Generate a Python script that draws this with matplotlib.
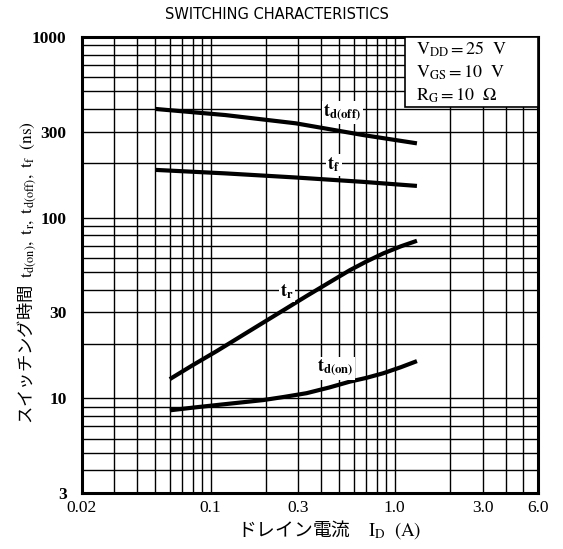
import matplotlib
matplotlib.use("Agg")
import matplotlib.pyplot as plt
from matplotlib.patches import Rectangle
from matplotlib.ticker import FixedLocator, LogLocator, NullFormatter

plt.rcParams['mathtext.fontset'] = 'stix'
plt.rcParams['font.family'] = ['Liberation Serif', 'DejaVu Serif']

# switching times vs drain current
id_doff = [0.05, 0.12, 0.29, 0.67, 1.32]
t_doff = [400, 370, 333, 287, 258]

id_f = [0.05, 0.12, 0.29, 0.67, 1.32]
t_f = [184, 176, 167, 158, 150]

id_r = [0.06, 0.08, 0.108, 0.145, 0.193, 0.25, 0.332, 0.44, 0.571, 0.7, 0.867, 1.08, 1.32]
t_r = [12.8, 15.3, 18.3, 22.0, 26.3, 30.9, 36.9, 43.8, 51.3, 57.2, 63.5, 69.5, 74.6]

id_don = [0.06, 0.08, 0.108, 0.145, 0.193, 0.25, 0.332, 0.44, 0.571, 0.7, 0.867, 1.08, 1.32]
t_don = [8.6, 8.9, 9.2, 9.5, 9.8, 10.2, 10.7, 11.5, 12.4, 13.0, 13.8, 14.9, 16.1]

xticks = [0.02, 0.1, 0.3, 1.0, 3.0, 6.0]
xlabels = ['0.02', '0.1', '0.3', '1.0', '3.0', '6.0']
yticks = [3, 10, 30, 100, 300, 1000]
ylabels = ['3', '10', '30', '100', '300', '1000']

conditions = [r'$\mathrm{V_{DD}=25\ \ V}$',
              r'$\mathrm{V_{GS}=10\ \ V}$',
              r'$\mathrm{R_{G}=10\ \ \Omega}$']

fig = plt.figure(figsize=(5.63, 5.49), dpi=100)
ax = fig.add_axes([0.1456, 0.102, 0.810, 0.8306])
ax.set_xscale('log')
ax.set_yscale('log')
ax.set_xlim(0.02, 6.0)
ax.set_ylim(3, 1000)

# full log grid, major and minor alike
ax.xaxis.set_minor_locator(LogLocator(base=10, subs=range(2, 10)))
ax.yaxis.set_minor_locator(LogLocator(base=10, subs=range(2, 10)))
ax.xaxis.set_minor_formatter(NullFormatter())
ax.yaxis.set_minor_formatter(NullFormatter())
ax.grid(True, which='both', color='black', lw=1.0)
ax.set_axisbelow(True)

ax.xaxis.set_major_locator(FixedLocator(xticks))
ax.set_xticklabels(xlabels, fontsize=12.5)
ax.yaxis.set_major_locator(FixedLocator(yticks))
ax.set_yticklabels(ylabels, fontsize=12.5, fontweight='bold')
ax.tick_params(axis='y', which='both', length=0, pad=11)
ax.tick_params(axis='x', which='both', length=0, pad=5)

for s in ax.spines.values():
    s.set_linewidth(2.2)

# curves
for x, y in [(id_doff, t_doff), (id_f, t_f), (id_r, t_r), (id_don, t_don)]:
    ax.plot(x, y, color='black', lw=3, solid_capstyle='butt', zorder=3)

lbl = dict(fontsize=13, va='center', ha='left', zorder=4,
           bbox=dict(facecolor='white', edgecolor='none', pad=1))
ax.text(0.41, 380, r'$\mathbf{t_{d(off)}}$', **lbl)
ax.text(0.43, 196, r'$\mathbf{t_{f}}$', **lbl)
ax.text(0.238, 39, r'$\mathbf{t_{r}}$', **lbl)
ax.text(0.378, 14.7, r'$\mathbf{t_{d(on)}}$', **lbl)

# conditions box in the upper right corner
ax.add_patch(Rectangle((0.708, 0.846), 0.292, 0.154, transform=ax.transAxes,
                       facecolor='white', edgecolor='black', lw=1.2, zorder=5))
for i, c in enumerate(conditions):
    ax.text(0.732, 0.972 - i * 0.05, c, transform=ax.transAxes,
            fontsize=13, va='center', ha='left', zorder=6)

fig.text(0.492, 0.974, 'SWITCHING CHARACTERISTICS', ha='center', va='center',
         fontsize=10.5, family='DejaVu Sans')

fig.text(0.048, 0.504,
         r'スイッチング時間  $\mathrm{t_{d(on)},\ t_{r},\ t_{d(off)},\ t_{f}\ \ (ns)}$',
         rotation=90, ha='center', va='center', fontsize=12.5,
         family='Noto Sans CJK JP')
fig.text(0.584, 0.035, r'ドレイン電流　$\mathrm{I_{D}\ \ (A)}$',
         ha='center', va='center', fontsize=13.5, family='Noto Sans CJK JP')

fig.savefig('out.png', dpi=100)
